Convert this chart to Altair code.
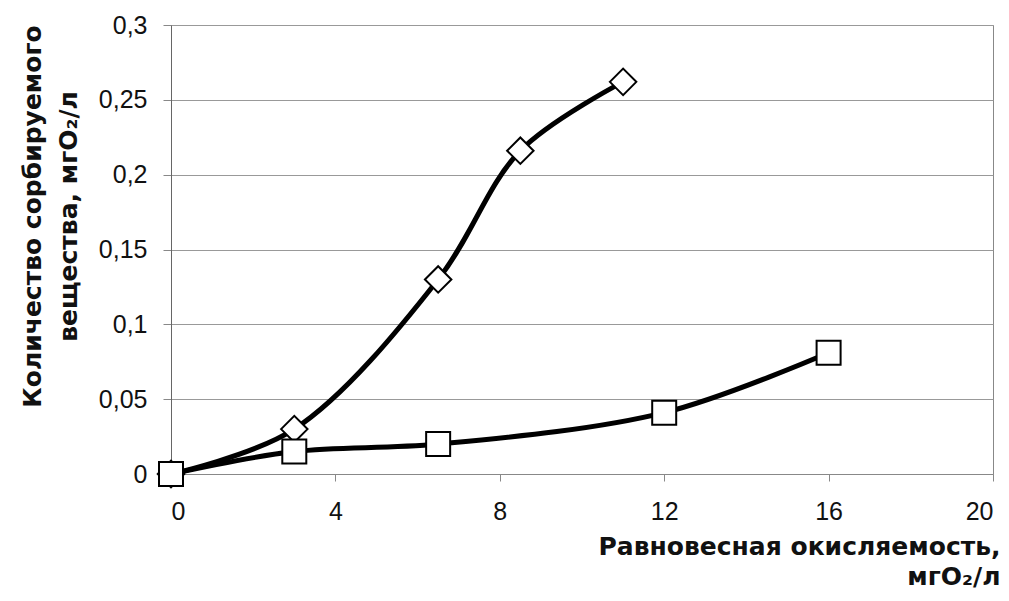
import altair as alt
import pandas as pd

# Series
diamond_x = [0, 3, 6.5, 8.5, 11]
diamond_y = [0, 0.03, 0.13, 0.216, 0.262]
square_x = [0, 3, 6.5, 12, 16]
square_y = [0, 0.015, 0.02, 0.041, 0.081]

x_ticks = [0, 4, 8, 12, 16, 20]
y_ticks = [0, 0.05, 0.1, 0.15, 0.2, 0.25, 0.3]

x_title = ["Равновесная окисляемость,", "мгО₂/л"]
y_title = ["Количество сорбируемого", "вещества, мгО₂/л"]

df = pd.concat([
    pd.DataFrame({"x": diamond_x, "y": diamond_y, "s": "diamond"}),
    pd.DataFrame({"x": square_x, "y": square_y, "s": "square"}),
])

FONT = "Liberation Sans"
TFONT = "DejaVu Sans"

x_enc = alt.X("x:Q", scale=alt.Scale(domain=[0, 20], nice=False),
              axis=alt.Axis(values=x_ticks, title=x_title, grid=False,
                            tickSize=7, labelPadding=18, labelFontSize=25,
                            labelFont=FONT, labelColor="#111",
                            domainColor="#888", tickColor="#888",
                            titleFont=TFONT, titleFontSize=25, titleFontWeight="bold",
                            titleColor="#111", titleAlign="right",
                            titleBaseline="alphabetic", titleX=829, titleY=80,
                            titleLineHeight=30, titleAnchor="end"))
y_enc = alt.Y("y:Q", scale=alt.Scale(domain=[0, 0.3], nice=False),
              axis=alt.Axis(values=y_ticks, title=y_title, grid=True,
                            gridColor="#999", gridWidth=1,
                            tickSize=8, labelPadding=16, labelFontSize=25,
                            labelFont=FONT, labelColor="#111",
                            labelExpr="replace(format(datum.value, ''), '.', ',')",
                            domainColor="#666", tickColor="#888",
                            titleFont=TFONT, titleFontSize=25, titleFontWeight="bold",
                            titleColor="#111", titleAngle=270, titleAlign="center",
                            titleBaseline="alphabetic", titleX=-131, titleY=191,
                            titleLineHeight=36))

lines = alt.Chart(df).mark_line(color="black", strokeWidth=5,
                                interpolate="catmull-rom").encode(
    x=x_enc, y=y_enc, detail="s:N")

diamonds = alt.Chart(df[df.s == "diamond"]).mark_point(
    shape="diamond", size=700, filled=True, fill="white",
    stroke="black", strokeWidth=2, opacity=1).encode(x="x:Q", y="y:Q")

squares = alt.Chart(df[df.s == "square"]).mark_point(
    shape="square", size=576, filled=True, fill="white",
    stroke="black", strokeWidth=2, opacity=1).encode(x="x:Q", y="y:Q")

chart = alt.layer(lines, diamonds, squares).properties(
    width=822, height=449,
    autosize=alt.AutoSizeParams(type="none"),
    padding={"left": 163, "top": 17, "right": 8, "bottom": 119},
    background="white",
).configure_view(stroke="#888", strokeWidth=1)

chart.save("out.html", embed_options={"renderer": "svg", "actions": False})
